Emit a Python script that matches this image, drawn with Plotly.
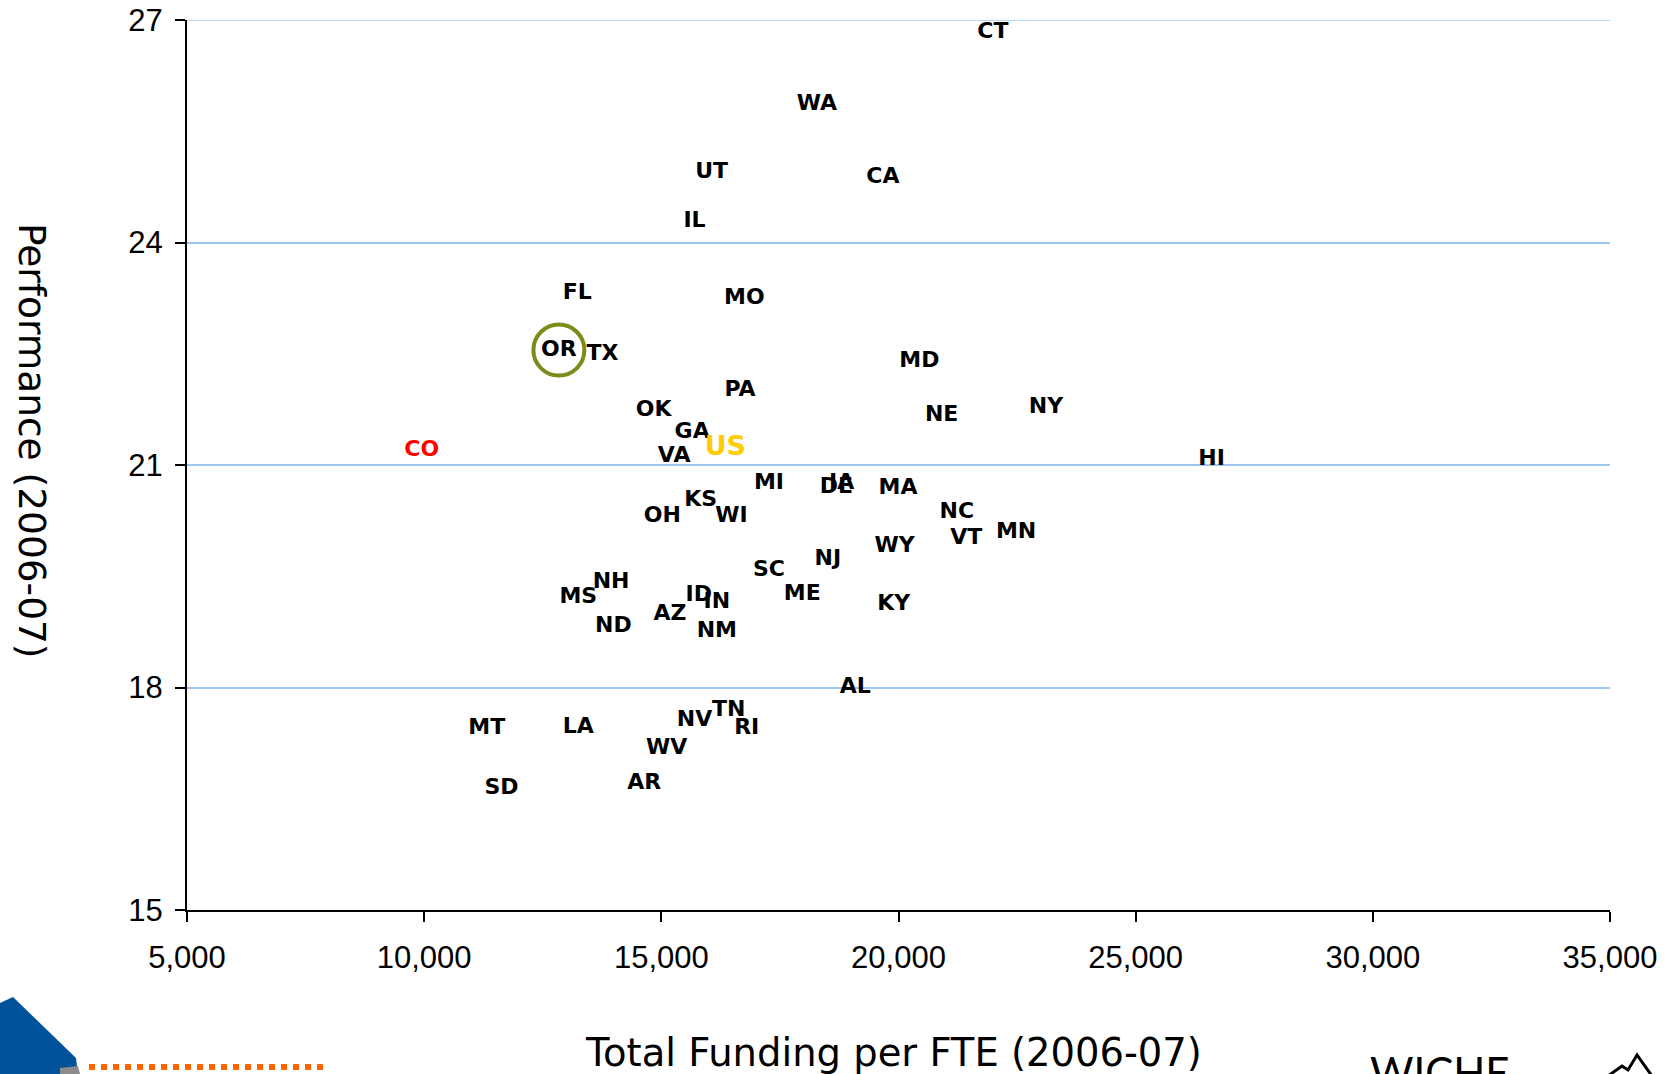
import plotly.graph_objects as go

# ---- data ----
states = ["CT", "WA", "UT", "CA", "IL", "FL", "MO", "OR", "TX", "MD", "PA", "NY", "OK", "NE",
          "GA", "US", "CO", "VA", "HI", "MI", "IA", "DE", "MA", "KS", "NC", "OH", "WI", "MN",
          "VT", "WY", "NJ", "SC", "NH", "MS", "ID", "ME", "IN", "KY", "AZ", "ND", "NM", "AL",
          "TN", "NV", "MT", "LA", "RI", "WV", "AR", "SD"]
funding = [21990, 18280, 16060, 19670, 15700, 13230, 16750, 12840, 13760, 20440, 16660, 23110,
           14840, 20910, 15650, 16350, 9950, 15270, 26600, 17270, 18800, 18690, 19990, 15830,
           21230, 15020, 16480, 22480, 21430, 19920, 18510, 17270, 13940, 13250, 15790, 17970,
           16170, 19900, 15180, 13990, 16170, 19090, 16420, 15700, 11320, 13250, 16800, 15110,
           14640, 11630]
performance = [26.83, 25.86, 24.95, 24.87, 24.28, 23.31, 23.25, 22.55, 22.49, 22.39, 22.00, 21.77,
               21.73, 21.67, 21.44, 21.22, 21.19, 21.11, 21.07, 20.75, 20.75, 20.69, 20.68, 20.52,
               20.36, 20.30, 20.30, 20.09, 20.01, 19.90, 19.73, 19.58, 19.42, 19.22, 19.24, 19.25,
               19.15, 19.12, 18.99, 18.82, 18.76, 18.00, 17.69, 17.55, 17.45, 17.46, 17.45, 17.18,
               16.70, 16.64]
highlight = "OR"
x_ticks = [5000, 10000, 15000, 20000, 25000, 30000, 35000]
y_ticks = [15, 18, 21, 24, 27]

# ---- styles ----
colors = []
sizes = []
for s in states:
    if s == "US":
        colors.append("#FFCC00"); sizes.append(27)
    elif s == "CO":
        colors.append("#FF0000"); sizes.append(22)
    else:
        colors.append("#000000"); sizes.append(22)

W, H = 1672, 1074
L, R, T, B = 187, 62, 20, 164
pw, ph = W - L - R, H - T - B
GRID = "#9DC8F2"

def px(x):
    return (x - L) / pw

def py(y):
    return (H - B - y) / ph

fig = go.Figure()
fig.add_trace(go.Scatter(
    x=funding, y=performance, mode="text", text=states,
    textposition="middle center",
    textfont=dict(family="DejaVu Sans", size=sizes, color=colors, weight="bold"),
    hoverinfo="skip", showlegend=False, cliponaxis=False))

hi = states.index(highlight)
fig.add_trace(go.Scatter(
    x=[funding[hi]], y=[performance[hi]], mode="markers",
    marker=dict(symbol="circle-open", size=51, color="#7D8B1A", line=dict(width=4, color="#7D8B1A")),
    hoverinfo="skip", showlegend=False, cliponaxis=False))

fig.update_layout(
    width=W, height=H,
    margin=dict(l=L, r=R, t=T, b=B, autoexpand=False),
    paper_bgcolor="white", plot_bgcolor="white",
    showlegend=False,
    xaxis=dict(range=[5000, 35000], tickvals=x_ticks, tickformat=",", showgrid=False,
               zeroline=False, showline=True, linecolor="black", linewidth=2,
               ticks="outside", ticklen=10, tickwidth=1.5, tickcolor="black",
               tickfont=dict(family="Liberation Sans", size=31, color="black"),
               ticklabelstandoff=9),
    yaxis=dict(range=[15, 27], tickvals=y_ticks, showgrid=True, gridcolor=GRID, gridwidth=1.5,
               zeroline=False, showline=True, linecolor="black", linewidth=2,
               ticks="outside", ticklen=10, tickwidth=1.5, tickcolor="black",
               tickfont=dict(family="Liberation Sans", size=31, color="black"),
               ticklabelstandoff=6),
)

annotations = [
    dict(text="Total Funding per FTE (2006-07)", xref="paper", yref="paper",
         x=px(893), y=py(1052), xanchor="center", yanchor="middle", showarrow=False,
         font=dict(family="DejaVu Sans", size=38.5, color="black")),
    dict(text="Performance (2006-07)", xref="paper", yref="paper",
         x=px(32), y=py(441), xanchor="center", yanchor="middle", showarrow=False, textangle=90,
         font=dict(family="DejaVu Sans", size=37.5, color="black")),
    dict(text="WICHE", xref="paper", yref="paper",
         x=px(1368), y=py(1045), xanchor="left", yanchor="top", showarrow=False,
         font=dict(family="Lato", size=42, color="black")),
]
fig.update_layout(annotations=annotations)

def path(points):
    d = "M " + " L ".join(f"{px(a)},{py(b)}" for a, b in points)
    return d

shapes = [
    # top gridline (plotly skips the grid line at the range edge)
    dict(type="line", xref="paper", yref="y", x0=0, x1=1, y0=y_ticks[-1], y1=y_ticks[-1],
         line=dict(color=GRID, width=1.5), layer="below"),
    # orange dotted rule
    dict(type="line", xref="paper", yref="paper", x0=px(89), x1=px(324), y0=py(1067), y1=py(1067),
         line=dict(color="#FF6600", width=6, dash="dot")),
    # blue logo fragment
    dict(type="path", xref="paper", yref="paper",
         path=path([(0, 1003), (13, 997), (76, 1058), (78, 1074), (0, 1074)]) + " Z",
         fillcolor="#00539B", line=dict(width=0)),
    dict(type="path", xref="paper", yref="paper",
         path=path([(60, 1068), (78, 1066), (80, 1074), (60, 1074)]) + " Z",
         fillcolor="#8C8C8C", line=dict(width=0)),
    # mountain logo
    dict(type="path", xref="paper", yref="paper",
         path=path([(1608, 1076), (1622, 1066), (1628, 1070), (1637, 1055), (1652, 1076)]),
         line=dict(color="black", width=3)),
]
fig.update_layout(shapes=shapes)

fig.write_html("out.html")
